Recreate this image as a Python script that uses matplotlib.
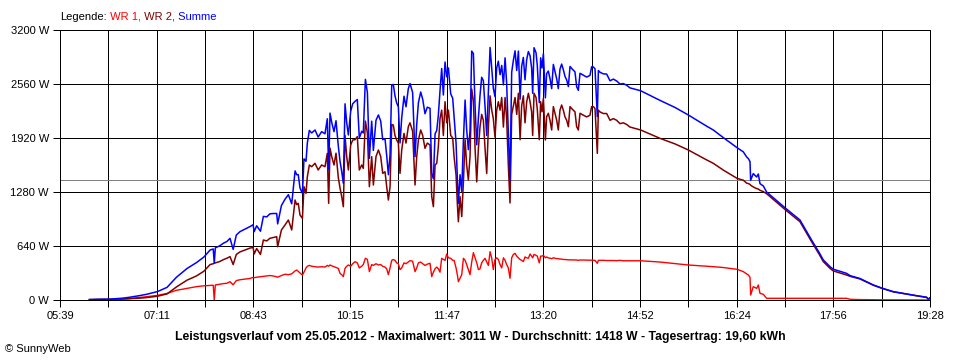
import matplotlib
matplotlib.use("Agg")
import matplotlib.pyplot as plt
import numpy as np

plt.rcParams["font.family"] = ["Liberation Sans", "DejaVu Sans"]

# Zeit in Minuten seit Mitternacht, Leistung in W
zeit = [
    367, 376, 386, 392, 399, 405, 413, 421, 432, 441, 450, 460, 469, 476, 482, 485, 486, 487, 491, 495, 498,
    501, 504, 507, 510.5, 513.7, 517, 520, 523, 524, 526.4, 530, 532.8, 536, 539, 542, 545.5, 546.4, 550,
    553.4, 556.6, 559.8, 563, 564.5, 566, 567.7, 570, 571.5, 573.4, 574.7, 576.6, 578.8, 582, 585, 588.3,
    591.5, 593.7, 595,
    596.3, 597.9, 600.1, 602.0, 604.2, 605.8, 607.4, 609.0, 610.6, 612.2, 613.8, 616.0, 617.9, 620.1, 622.3,
    624.2, 626.5, 628.0, 630.0, 631.9, 633.8, 636.0, 637.6, 640.1, 642.4, 644.6, 646.5, 648.7, 650.3, 651.9,
    653.5, 655.1, 656.6, 658.2, 659.8, 661.4, 663.0, 664.6, 666.8, 668.7, 670.9, 672.5, 675.0, 677.3, 678.9,
    680.5, 682.7, 684.6, 686.8, 689.0, 691.6,
    693.2, 694.8, 696.4, 698.0, 699.5, 701.1, 702.7, 704.3, 705.9, 707.5, 709.1, 711.3, 713.2, 714.5, 716.4,
    717.6, 718.6, 720.2, 721.8, 723.4, 725.0, 726.5, 728.1, 729.7, 731.3, 732.9, 734.5, 736.1, 737.7, 739.2,
    740.8, 742.4, 744.0, 745.6, 747.2, 748.8, 750.4, 751.9, 753.5, 755.1, 756.7, 758.3, 759.9, 761.5, 763.1,
    764.6, 766.2, 767.8, 769.4, 771.0, 772.6, 774.2, 775.8, 777.4, 778.9, 780.5, 782.1, 783.7, 785.3, 786.9,
    788.4, 789.4, 790.7, 792.6, 793.8, 795.7, 797.0, 798.3, 799.6, 801.5, 802.7, 804.3, 805.9, 807.5, 809.1,
    810.7, 812.3, 813.8, 815.4, 817.0, 818.6, 820.2, 821.8, 823.4, 825.0, 826.5, 828.1, 829.7, 831.3, 832.9,
    834.5, 837.7, 840.8, 844.0, 845.6, 847.2, 848.8, 851.0, 852.0, 853.5, 856.7, 859.9, 863.1, 866.3, 869.4,
    872.6, 875.8, 879.0, 882.1,
    892.3, 910.7, 925, 937.7, 955.2, 961.5, 971.0, 984.4, 990.1, 993.3, 994.9, 996.5, 997.1, 999.6, 1002.8,
    1004.4, 1006.0, 1009.2, 1012.3, 1030.4, 1044.1, 1050.5, 1055.2, 1062.5, 1066.3, 1072.7, 1075.8, 1088.5,
    1092, 1101.2, 1114.0, 1122.8, 1133.0, 1145.7, 1155.2, 1164.7, 1166.5, 1168,
]

wr1 = [
    np.nan, np.nan, 2, 5, 10, 16, 28, 38, 55, 78, 115, 138, 158, 168, 172, 175, 0, 178, 186, 195, 198,
    217, 180, 230, 240, 245, 250, 255, 268, 265, 270, 275, 280, 285, 290, 285, 275, 270, 290,
    305, 300, 310, 345, 355, 340, 320, 295, 330, 380, 400, 410, 400, 395, 390, 395,
    390, 410, 400,
    415, 405, 395, 385, 375, 316, 300, 277, 375, 400, 415, 400, 430, 454, 440,
    380, 400, 420, 495, 480, 336, 420, 410, 430, 415, 420, 400, 390, 370, 300,
    380, 470, 480, 470, 440, 430, 360, 380, 440, 430, 450, 466, 460, 336, 380,
    440, 450, 430, 410, 425, 435,
    277, 330, 370, 390, 370, 330, 494, 480, 470, 545, 500, 494, 470, 470, 380,
    300, 217, 260, 300, 494, 470, 420, 360, 300, 450, 561, 500, 440, 360, 370,
    440, 470, 494, 450, 410, 573, 494, 360, 480, 500, 480, 420, 380, 500, 470,
    420, 380, 257, 500, 540, 553, 520, 500, 480, 470, 455, 510, 500, 495, 545,
    520, 500, 540, 530, 520, 440, 520, 520, 530, 500, 510, 500, 495, 490, 500,
    495, 490, 490, 485, 485, 480, 480, 478, 476, 476, 475, 475, 474, 474, 470,
    474, 474, 472, 472, 472, 470, 470, 435, 470, 470, 470, 468, 468, 468, 466,
    470, 465, 465, 464,
    465, 450, 432, 415, 400, 395, 385, 363, 336, 310, 296, 270, 59, 158, 138,
    178, 79, 67, 20, 20, 20, 20, 20, 20, 20, 20, 20, 20,
    8, 5, 3, 2, 2, 1, 1, 0, 0, 0,
]

wr2 = [
    5, 8, 8, 10, 12, 16, 20, 28, 45, 72, 155, 235, 285, 340, 420, 430, 435, 440, 455, 480, 495,
    514, 420, 540, 570, 585, 600, 615, 624, 545, 610, 540, 711, 700, 731, 740, 750, 632, 830,
    889, 948, 830, 1185, 1130, 1146, 1007, 968, 1343, 1264, 1462, 1600, 1580, 1620, 1541, 1600,
    1580, 1738, 1146,
    1800, 1700, 1600, 1740, 1450, 1330, 1225, 1106, 1950, 1700, 1541, 1837, 1896, 1900, 1936,
    1541, 1600, 1560, 2120, 1980, 1343, 1699, 1363, 1700, 1778, 1700, 1501, 1520, 1343, 1185,
    1343, 2080, 2074, 1950, 1896, 1860, 1501, 1778, 1975, 1860, 2054, 2100, 2000, 1363, 1699,
    1896, 2015, 1950, 1798, 1860, 1837,
    1225, 1106, 1600, 1620, 1817, 2150, 2250, 1950, 2350, 2100, 2250, 1950, 1920, 1700, 1480,
    1146, 928, 1225, 988, 1400, 1900, 1600, 1422, 1700, 2500, 2360, 1800, 1400, 1800, 2050,
    2200, 2130, 1800, 1500, 2050, 2420, 2250, 2150, 1930, 2250, 2350, 2250, 2400, 2050, 2400,
    2150, 1600, 1150, 2200, 2300, 2400, 2200, 2450, 1900, 2300, 2420, 2100, 2350, 2450, 2350,
    2230, 1950, 2450, 2400, 2260, 1900, 2350, 2230, 2390, 1896, 2173, 2213, 2130, 2015, 2292,
    2213, 2130, 2015, 2250, 2311, 2250, 2170, 2130, 2054, 2292, 2270, 2250, 2230, 2054, 2015,
    2213, 2190, 2170, 2190, 2292, 2292, 2270, 1738, 2250, 2230, 2210, 2210, 2130, 2150, 2130,
    2090, 2100, 2080, 2050,
    2015, 1916, 1850, 1778, 1660, 1620, 1540, 1440, 1420, 1385, 1380, 1370, 1360, 1340, 1320,
    1315, 1300, 1284, 1260, 1067, 928, 790, 690, 540, 455, 375, 345, 296,
    280, 250, 175, 136, 97, 70, 50, 32, 10, 25,
]

y_ticks = [0, 640, 1280, 1920, 2560, 3200]
x_labels = ["05:39", "07:11", "08:43", "10:15", "11:47", "13:20", "14:52", "16:24", "17:56", "19:28"]
durchschnitt = 1418
titel = ("Leistungsverlauf vom 25.05.2012 - Maximalwert: 3011 W - "
         "Durchschnitt: 1418 W - Tagesertrag: 19,60 kWh")

assert len(zeit) == len(wr1) == len(wr2)

t = np.array(zeit, dtype=float)
p1 = np.array(wr1, dtype=float)
p2 = np.array(wr2, dtype=float)
summe = np.nan_to_num(p1) + p2

fig = plt.figure(figsize=(9.6, 3.6), dpi=100)
ax = fig.add_axes([60 / 960, 60 / 360, 870 / 960, 270 / 360])

t_start, t_end = 339, 1168
xt = np.linspace(t_start, t_end, 2 * len(x_labels) - 1)
xl = []
for lab in x_labels:
    xl += [lab, ""]
ax.set_xticks(xt)
ax.set_xticklabels(xl[:-1])
ax.set_yticks(y_ticks)
ax.set_yticklabels([f"{v} W" for v in y_ticks])
ax.set_xlim(t_start, t_end)
ax.set_ylim(0, 3200)

lw1 = 0.72  # 1 Pixel
ax.grid(True, color="black", linewidth=lw1, antialiased=False)
ax.set_axisbelow(True)
for sp in ax.spines.values():
    sp.set_color("black")
    sp.set_linewidth(lw1)
    sp.set_antialiased(False)
ax.tick_params(length=5, width=lw1, pad=3, labelsize=8, colors="black")

ax.axhline(durchschnitt, color="#808080", linewidth=lw1, antialiased=False, zorder=1.5)
ax.plot(t, p1, color="#ff0000", linewidth=1.0, zorder=2)
ax.plot(t, p2, color="#800000", linewidth=1.1, zorder=3)
ax.plot(t, summe, color="#0000ff", linewidth=1.1, zorder=4)

# Legende als farbiger Text
renderer = fig.canvas.get_renderer()
x = 60 / 960
for txt, col in [("Legende:", "black"), (" WR 1,", "#ff0000"), (" WR 2,", "#800000"), (" Summe", "#0000ff")]:
    tt = fig.text(x, 1 - 16.5 / 360, txt, color=col, fontsize=8, va="center", ha="left")
    bb = tt.get_window_extent(renderer)
    x = bb.x1 / fig.bbox.width

fig.text(0.5, 1 - 337 / 360, titel, ha="center", va="center", fontsize=8.8, fontweight="bold")
fig.text(5 / 960, 1 - 349 / 360, "© SunnyWeb", ha="left", va="center", fontsize=8)

fig.savefig("out.png", dpi=100)
